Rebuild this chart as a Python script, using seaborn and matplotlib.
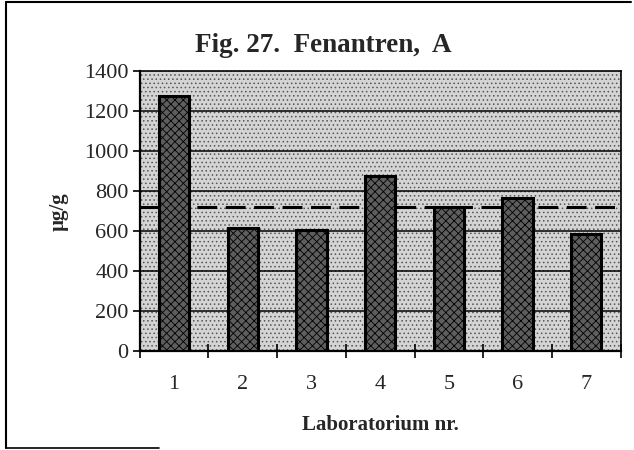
import matplotlib
matplotlib.use("Agg")
import matplotlib.pyplot as plt
import numpy as np
import pandas as pd
import seaborn as sns
from matplotlib.patches import Rectangle
from matplotlib.lines import Line2D

sns.set_style("white")
plt.rcParams['font.family'] = ['Liberation Serif', 'DejaVu Serif']
plt.rcParams['hatch.linewidth'] = 0.6

# data
labs = ['1', '2', '3', '4', '5', '6', '7']
values = [1275, 615, 608, 877, 722, 767, 585]
mean_line = 722
yticks = [0, 200, 400, 600, 800, 1000, 1200, 1400]

df = pd.DataFrame({'lab': labs, 'value': values})

fig = plt.figure(figsize=(6.34, 4.5), dpi=100)
ax = fig.add_axes([0.2203, 0.2193, 0.7587, 0.6222])

# stippled plot background
ax.add_patch(Rectangle((0, 0), 1, 1, transform=ax.transAxes, facecolor='#d4d4d4',
                       edgecolor='#555555', hatch='....', zorder=0, linewidth=0))
ax.set_facecolor('none')

sns.barplot(ax=ax, data=df, x='lab', y='value', color='#5e5e5e', width=0.44,
            edgecolor='black', linewidth=2.2, saturation=1, zorder=3)
for bar in ax.containers[0]:
    bar.set_hatch('xxxx')

for y in yticks[1:-1]:
    ax.axhline(y, color='black', linewidth=1.1, zorder=1)
ax.axhline(mean_line, color='black', linewidth=2.2, dashes=(6.5, 2.8), zorder=2)

ax.set_xlim(-0.5, len(labs) - 0.5)
ax.set_ylim(0, 1400)
ax.set_yticks(yticks)
ax.set_yticklabels([str(t) for t in yticks], fontsize=16)
ax.set_xticks(range(len(labs)))
ax.set_xticklabels(labs, fontsize=16)
ax.set_xticks(np.arange(-0.5, len(labs)), minor=True)
ax.tick_params(axis='x', which='major', bottom=True, length=0, pad=17)
ax.tick_params(axis='x', which='minor', bottom=True, direction='inout', length=10,
               width=1.2, color='black')
ax.tick_params(axis='y', which='major', left=True, direction='out', length=5,
               width=1.2, pad=3, color='black')

for side in ['top', 'right']:
    ax.spines[side].set_linestyle((0, (1, 1)))
    ax.spines[side].set_linewidth(1.2)
for side in ['left', 'bottom']:
    ax.spines[side].set_linewidth(1.6)
for s in ax.spines.values():
    s.set_color('black')
    s.set_visible(True)

ax.set_xlabel('Laboratorium nr.', fontsize=15, fontweight='bold', labelpad=15)
ax.set_ylabel('µg/g', fontsize=15, fontweight='bold', labelpad=11)
fig.text(0.51, 0.90, 'Fig. 27.  Fenantren,  A', ha='center', va='center',
         fontsize=19.5, fontweight='bold')

# outer frame
fig.add_artist(Line2D([0.010, 0.010], [0.004, 0.996], transform=fig.transFigure,
                      color='black', linewidth=1.5))
fig.add_artist(Line2D([0.010, 0.995], [0.996, 0.996], transform=fig.transFigure,
                      color='black', linewidth=1.5))
fig.add_artist(Line2D([0.010, 0.25], [0.004, 0.004], transform=fig.transFigure,
                      color='black', linewidth=1.2))

fig.savefig('out.png', dpi=100)
